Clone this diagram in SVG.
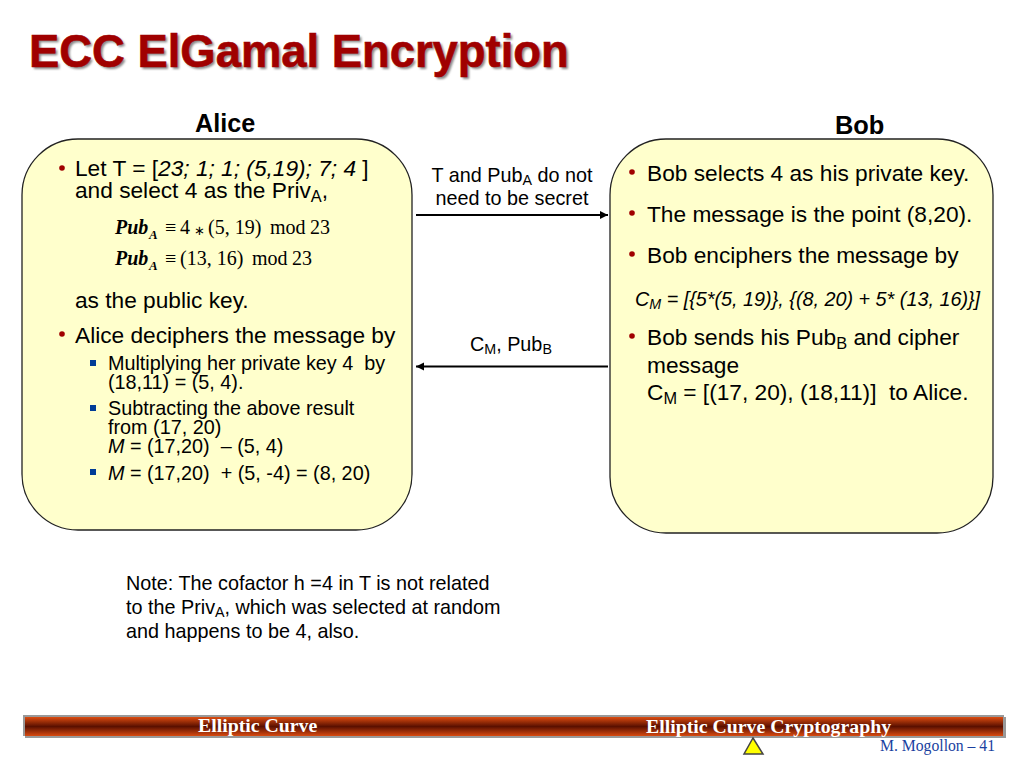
<svg xmlns="http://www.w3.org/2000/svg" width="1024" height="768" viewBox="0 0 1024 768">
<style>
text{font-family:"Liberation Sans",Arial,sans-serif;fill:#000}
.t{font-size:22.7px}.s{font-size:19.8px}.n{font-size:19.8px}
.i{font-style:italic}.sub{font-size:72%;baseline-shift:-22%}
.m{font-family:"Liberation Serif","Times New Roman",serif;font-size:20px}
.mi{font-weight:bold;font-style:italic}
.ms{font-family:"Liberation Serif","Times New Roman",serif;font-size:13px;font-weight:bold;font-style:italic}
.box{fill:#ffffcc;stroke:#222;stroke-width:1.3}
.rb{fill:#a00000}.bb{fill:#003c96}
.f{font-family:"Liberation Serif","Times New Roman",serif;font-size:19.8px;font-weight:bold;fill:#fff}
</style>
<defs>
<marker id="ah" markerWidth="10" markerHeight="9" refX="8" refY="4" orient="auto" markerUnits="userSpaceOnUse"><path d="M0 0L8 4L0 8Z" fill="#000"/></marker>
<linearGradient id="bar" x1="0" y1="0" x2="0" y2="1"><stop offset="0" stop-color="#dc4c10"/><stop offset=".5" stop-color="#5a1000"/><stop offset="1" stop-color="#d84a10"/></linearGradient>
<filter id="sh" x="-5%" y="-20%" width="110%" height="140%"><feGaussianBlur stdDeviation="1"/></filter>
</defs>

<g id="title">
<text x="31" y="69" style="font-size:45.4px;font-weight:bold;fill:#888" filter="url(#sh)">ECC ElGamal Encryption</text>
<text x="29" y="67" style="font-size:45.4px;font-weight:bold;fill:#a00000" stroke="#a00000" stroke-width=".6">ECC ElGamal Encryption</text>
</g>

<g id="alice-label"><text x="195" y="132" style="font-size:25.2px;font-weight:bold">Alice</text></g>
<g id="bob-label"><text x="835" y="134" style="font-size:25.4px;font-weight:bold">Bob</text></g>

<g id="alice">
<rect class="box" x="22" y="139" width="390" height="391" rx="56" ry="56"/>
<circle class="rb" cx="62" cy="168" r="2.8"/>
<text class="t" x="75" y="176">Let T = [<tspan class="i">23; 1; 1; (5,19); 7; 4 </tspan>]</text>
<text class="t" x="75" y="198">and select 4 as the Priv<tspan class="sub">A</tspan>,</text>
<text class="m mi" x="115" y="234">Pub</text><text class="ms" x="149" y="239">A</text>
<text class="m" x="165" y="234">≡</text><text class="m" x="180" y="234">4</text><text class="m" x="194" y="235" style="font-size:13px">∗</text>
<text class="m" x="208" y="234">(5, 19)</text><text class="m" x="270" y="234">mod</text><text class="m" x="310" y="234">23</text>
<text class="m mi" x="115" y="265">Pub</text><text class="ms" x="149" y="270">A</text>
<text class="m" x="165" y="265">≡</text><text class="m" x="180" y="265">(13, 16)</text><text class="m" x="252" y="265">mod</text><text class="m" x="292" y="265">23</text>
<text class="t" x="75" y="308">as the public key.</text>
<circle class="rb" cx="62" cy="334" r="2.8"/>
<text class="t" x="75" y="343">Alice deciphers the message by</text>
<rect class="bb" x="90" y="360" width="6" height="6"/>
<text class="s" x="108" y="370">Multiplying her private key 4 &#160;by</text>
<text class="s" x="108" y="389">(18,11) = (5, 4).</text>
<rect class="bb" x="90" y="405" width="6" height="6"/>
<text class="s" x="108" y="415">Subtracting the above result</text>
<text class="s" x="108" y="434">from (17, 20)</text>
<text class="s" x="108" y="453"><tspan class="i">M</tspan> = (17,20) &#160;– (5, 4)</text>
<rect class="bb" x="90" y="469" width="6" height="6"/>
<text class="s" x="108" y="480"><tspan class="i">M</tspan> = (17,20) &#160;+ (5, -4) = (8, 20)</text>
</g>

<g id="bob">
<rect class="box" x="610" y="139" width="383" height="394" rx="56" ry="56"/>
<circle class="rb" cx="632" cy="172" r="2.8"/>
<text class="t" x="647" y="181">Bob selects 4 as his private key.</text>
<circle class="rb" cx="632" cy="213" r="2.8"/>
<text class="t" x="647" y="222">The message is the point (8,20).</text>
<circle class="rb" cx="632" cy="254" r="2.8"/>
<text class="t" x="647" y="263">Bob enciphers the message by</text>
<text x="635" y="306" style="font-size:19.8px;font-style:italic">C<tspan class="sub">M</tspan> = [{5*(5, 19)}, {(8, 20) + 5* (13, 16)}]</text>
<circle class="rb" cx="632" cy="336" r="2.8"/>
<text class="t" x="647" y="345">Bob sends his Pub<tspan class="sub">B</tspan> and cipher</text>
<text class="t" x="647" y="373">message</text>
<text class="t" x="647" y="400">C<tspan class="sub">M</tspan> = [(17, 20), (18,11)] &#160;to Alice.</text>
</g>

<g id="connectors" stroke="#000" stroke-width="2" fill="none">
<path d="M416 215H608" marker-end="url(#ah)"/>
<path d="M608 366.500H416" marker-end="url(#ah)"/>
</g>

<g id="label-top">
<text class="n" x="512" y="182" text-anchor="middle">T and Pub<tspan class="sub">A</tspan> do not</text>
<text class="n" x="512" y="205" text-anchor="middle">need to be secret</text>
</g>
<g id="label-bottom"><text class="n" x="470" y="351">C<tspan class="sub">M</tspan>, Pub<tspan class="sub">B</tspan></text></g>

<g id="note">
<text class="n" x="126" y="590">Note: The cofactor h =4 in T is not related</text>
<text class="n" x="126" y="614">to the Priv<tspan class="sub">A</tspan>, which was selected at random</text>
<text class="n" x="126" y="638">and happens to be 4, also.</text>
</g>

<g id="footer">
<rect x="25" y="717" width="981" height="21" fill="#999"/>
<rect x="23" y="715" width="981" height="21" fill="#999"/>
<rect x="25" y="717" width="978" height="19" fill="url(#bar)"/>
<text class="f" x="198" y="732">Elliptic Curve</text>
<text class="f" x="646" y="733">Elliptic Curve Cryptography</text>
<path d="M753 738L763 754H744Z" fill="#ffff00" stroke="#444" stroke-width="1.500"/>
<text x="880" y="751" style="font-family:'Liberation Serif',serif;font-size:15.700px;fill:#1a3fa0">M. Mogollon – 41</text>
</g>
</svg>
